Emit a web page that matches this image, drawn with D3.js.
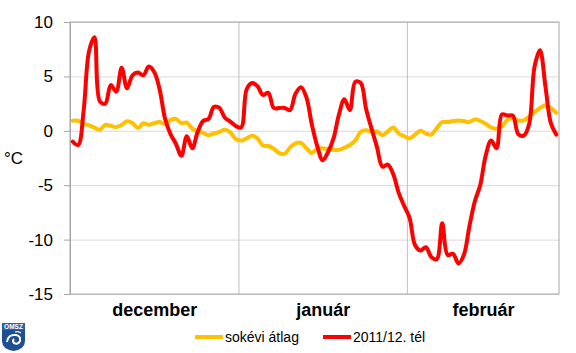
<!DOCTYPE html>
<html>
<head>
<meta charset="utf-8">
<script src="https://cdn.jsdelivr.net/npm/d3@7"></script>
<style>
  body { margin: 0; background: #fff; }
  svg { display: block; font-family: "Liberation Sans", Arial, sans-serif; }
</style>
</head>
<body>
<svg id="chart" width="576" height="353"></svg>
<script>
// napi adatok, dec. 1 - febr. 28
const months = ['december', 'január', 'február'];
const monthDays = [31, 31, 28];
const yTicks = [-15, -10, -5, 0, 5, 10];
const seriesNames = ['sokévi átlag', '2011/12. tél'];

const avgTemp = [
    0.92, 0.92, 0.65, 0.5, 0.3, 0.1, 0.55, 0.45, 0.35, 0.55,
    0.88, 0.72, 0.25, 0.7, 0.55, 0.7, 0.8, 0.62, 1.0, 1.1,
    0.7, 0.75, 0.2, -0.05, -0.2, -0.4, -0.25, -0.1, 0.1, -0.15,
    -0.75, -0.9, -0.7, -0.45, -0.7, -1.35, -1.4, -1.65, -2.05, -2.1,
    -1.55, -1.15, -1.1, -1.6, -2.05, -1.65, -1.6, -1.7, -1.75, -1.75,
    -1.55, -1.3, -0.9, -0.1, 0.05, -0.1, -0.05, -0.4, -0.05, 0.3,
    -0.25, -0.5, -0.7, -0.35, 0.0, -0.25, -0.35, 0.25, 0.8, 0.8,
    0.9, 0.95, 0.9, 0.8, 1.05, 0.9, 0.65, 0.3, 0.2, 0.4,
    1.0, 1.15, 0.95, 0.95, 1.3, 1.7, 2.1, 2.35, 2.1, 1.65
];

const winterTemp = [
    -1.0, -1.3, 1.8, 7.3, 8.6, 2.7, 2.5, 4.2, 3.6, 5.8,
    3.9, 5.1, 5.35, 5.1, 5.9, 5.4, 3.8, 1.1, -0.3, -1.2,
    -2.3, -0.5, -1.6, -0.1, 0.9, 1.1, 2.2, 2.1, 1.2, 0.85,
    0.45, 0.3, 3.8, 4.4, 4.1, 3.3, 3.5, 2.1, 2.1, 2.1,
    1.9, 3.4, 4.0, 3.1, 0.6, -1.4, -2.7, -1.95, -0.7, 1.5,
    2.9, 1.9, 4.5, 4.4, 2.0, 0.2, -1.5, -3.3, -3.1, -4.0,
    -5.7, -6.9, -8.0, -10.5, -11.0, -10.7, -11.6, -11.8, -8.5, -11.4,
    -11.3, -12.2, -11.4, -8.8, -6.5, -5.0, -2.3, -0.9, -1.6, 1.5,
    1.4, 1.4, -0.3, -0.45, 0.6, 5.9, 7.4, 4.1, 0.7, -0.35
];

const margin = { top: 22, left: 70, right: 17, bottom: 59 };
const width = 576 - margin.left - margin.right;
const height = 353 - margin.top - margin.bottom;
const totalDays = d3.sum(monthDays);

const svg = d3.select('#chart');
const chart = svg.append('g')
    .attr('transform', `translate(${margin.left}, ${margin.top})`);

const xScale = d3.scaleLinear()
    .domain([0, totalDays])
    .range([0, width]);

const yScale = d3.scaleLinear()
    .domain([-15, 10])
    .range([height, 0]);

// vízszintes rácsvonalak
chart.append('g')
    .call(d3.axisLeft(yScale).tickValues(yTicks).tickSize(-width).tickFormat(''))
    .call(g => g.select('.domain').remove())
    .call(g => g.selectAll('line').attr('stroke', '#d9d9d9'));

// hónaphatárok
const monthStarts = d3.cumsum(monthDays).slice(0, -1);
chart.append('g')
    .attr('transform', `translate(0, ${height})`)
    .call(d3.axisBottom(xScale).tickValues(Array.from(monthStarts)).tickSize(-height).tickFormat(''))
    .call(g => g.select('.domain').remove())
    .call(g => g.selectAll('line').attr('stroke', '#c0c0c0'));

chart.append('rect')
    .attr('width', width)
    .attr('height', height)
    .attr('fill', 'none')
    .attr('stroke', '#a6a6a6');

// y tengely
chart.append('g')
    .call(d3.axisLeft(yScale).tickValues(yTicks).tickSize(6).tickPadding(11)
        .tickFormat(d => String(d)))
    .call(g => g.select('.domain').attr('stroke', '#a6a6a6'))
    .call(g => g.selectAll('line').attr('stroke', '#a6a6a6'))
    .call(g => g.selectAll('text')
        .attr('font-size', 17)
        .attr('font-family', '"Liberation Sans", Arial, sans-serif')
        .attr('fill', '#000'));

// hónapnevek
const monthMids = monthDays.map((d, i) => d3.sum(monthDays.slice(0, i)) + d / 2);
const monthScale = d3.scaleOrdinal().domain(monthMids).range(months);
chart.append('g')
    .attr('transform', `translate(0, ${height})`)
    .call(d3.axisBottom(xScale).tickValues(monthMids).tickSize(0).tickPadding(9)
        .tickFormat(d => monthScale(d)))
    .call(g => g.select('.domain').remove())
    .call(g => g.selectAll('text')
        .attr('font-size', 18)
        .attr('font-weight', 'bold')
        .attr('font-family', '"Liberation Sans", Arial, sans-serif')
        .attr('fill', '#000'));

svg.append('text')
    .attr('x', 4)
    .attr('y', 164)
    .attr('font-size', 17)
    .text('°C');

const line = d3.line()
    .x((d, i) => xScale(i + 0.5))
    .y(d => yScale(d))
    .curve(d3.curveCatmullRom);

const colors = ['#ffc000', '#ff0000'];

chart.selectAll('.series')
    .data([avgTemp, winterTemp])
    .enter()
    .append('path')
    .attr('class', 'series')
    .attr('d', line)
    .attr('fill', 'none')
    .attr('stroke', (d, i) => colors[i])
    .attr('stroke-width', 4)
    .attr('stroke-linejoin', 'round')
    .attr('stroke-linecap', 'round');

// jelmagyarázat
const legend = svg.append('g');
const legendX = [195, 323];
seriesNames.forEach((name, i) => {
    legend.append('line')
        .attr('x1', legendX[i])
        .attr('x2', legendX[i] + 28)
        .attr('y1', 337)
        .attr('y2', 337)
        .attr('stroke', colors[i])
        .attr('stroke-width', 4);
    legend.append('text')
        .attr('x', legendX[i] + 30)
        .attr('y', 342)
        .attr('font-size', 14)
        .text(name);
});

// OMSZ logó
const logo = svg.append('g').attr('transform', 'translate(2, 323)');
logo.append('path')
    .attr('d', 'M0,0 H23 V18 Q23,26 11.5,28 Q0,26 0,18 Z')
    .attr('fill', '#1d4f91');
logo.append('rect')
    .attr('width', 23)
    .attr('height', 7)
    .attr('fill', '#2b5fa8');
logo.append('text')
    .attr('x', 11.5)
    .attr('y', 6)
    .attr('text-anchor', 'middle')
    .attr('font-size', 6.5)
    .attr('font-weight', 'bold')
    .attr('fill', '#fff')
    .text('OMSZ');
logo.append('path')
    .attr('d', 'M5,19 Q6,11 14,12 Q19,13 18,18 Q16,22 12,20 Q10,18 12,16')
    .attr('fill', 'none')
    .attr('stroke', '#fff')
    .attr('stroke-width', 2);
logo.append('path')
    .attr('d', 'M13,9 Q17,8 19,10')
    .attr('fill', 'none')
    .attr('stroke', '#fff')
    .attr('stroke-width', 1.2);
</script>
</body>
</html>
